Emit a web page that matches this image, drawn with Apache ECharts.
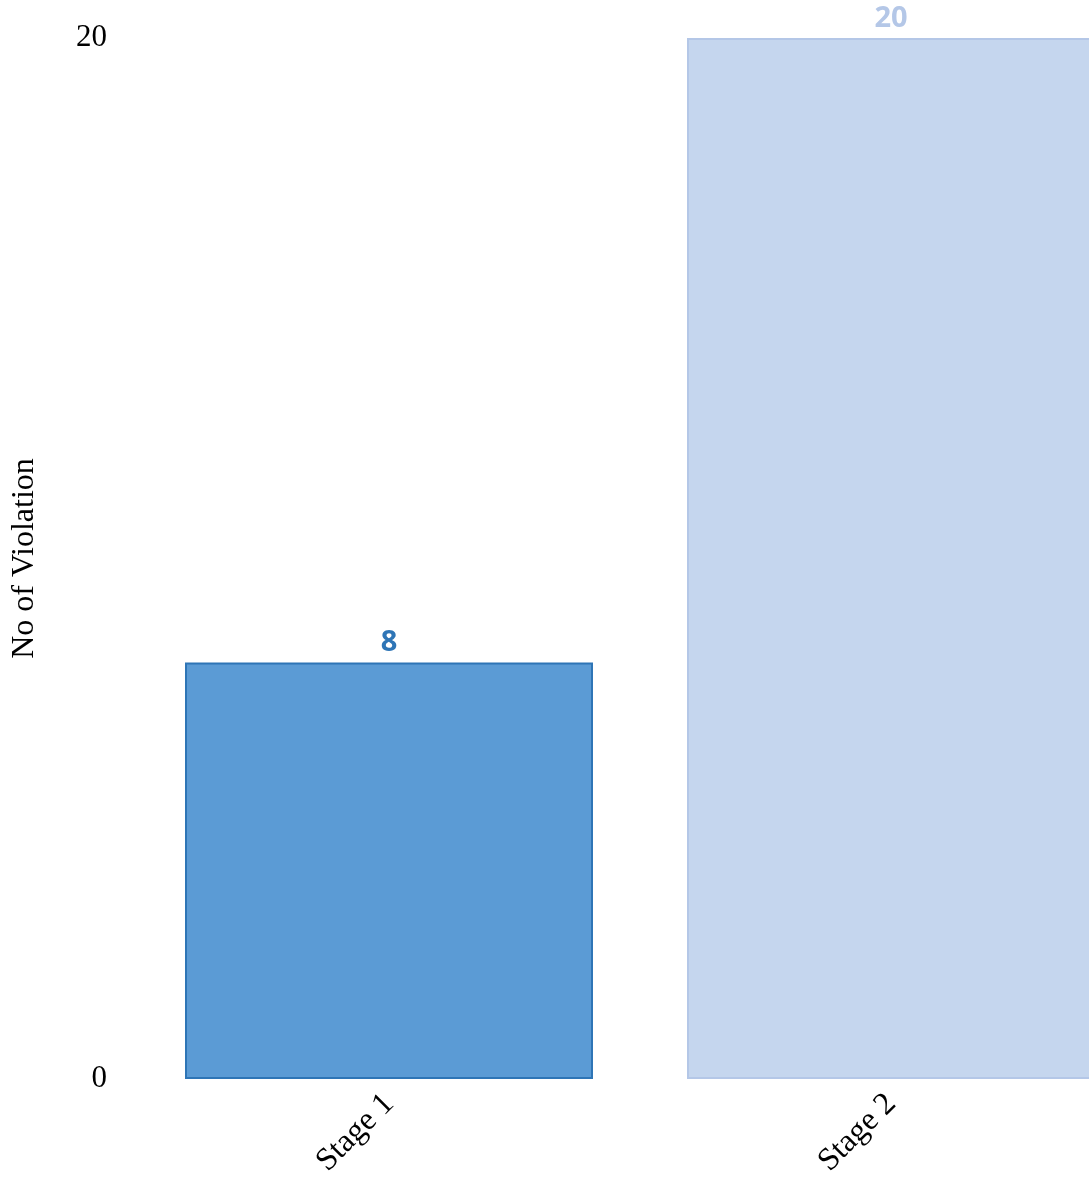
<!DOCTYPE html>
<html>
<head>
<meta charset="utf-8">
<style>
  html, body { margin: 0; padding: 0; background: #ffffff; }
  #chart { width: 1089px; height: 1177px; }
</style>
<script src="https://cdn.jsdelivr.net/npm/echarts@6/dist/echarts.min.js"></script>
</head>
<body>
<div id="chart"></div>
<script>
// Violations counted per stage
const stages = ['Stage 1', 'Stage 2'];
const violations = [8, 20];
const fillColors = ['#5b9bd5', '#c5d6ee'];
const edgeColors = ['#2e75b6', '#b4c7e7'];
const labelColors = ['#2e75b6', '#b4c7e7'];

const chart = echarts.init(document.getElementById('chart'), null, { renderer: 'canvas' });

const serif = '"Liberation Serif", "DejaVu Serif", serif';

chart.setOption({
  animation: false,
  backgroundColor: '#ffffff',
  // plot area runs past the right edge of the canvas, so the second bar is cut off
  grid: {
    left: 138, width: 1004, top: 38, height: 1041,
    containLabel: false,
    outerBoundsMode: 'none'
  },
  xAxis: {
    type: 'category',
    data: stages,
    axisLine: { show: false },
    axisTick: { show: false },
    axisLabel: {
      rotate: 45,
      margin: 20,
      fontFamily: serif,
      fontSize: 32,
      color: '#000000'
    }
  },
  yAxis: {
    type: 'value',
    min: 0,
    max: 20,
    interval: 20,
    name: 'No of Violation',
    nameLocation: 'middle',
    nameGap: 97,
    nameTextStyle: { fontFamily: serif, fontSize: 32, color: '#000000' },
    axisLine: { show: false },
    axisTick: { show: false },
    splitLine: { show: false },
    axisLabel: {
      margin: 31,
      fontFamily: serif,
      fontSize: 31,
      color: '#000000'
    }
  },
  series: [{
    type: 'bar',
    barWidth: 408,
    data: violations.map((v, i) => ({
      value: v,
      itemStyle: { color: fillColors[i], borderColor: edgeColors[i], borderWidth: 2 },
      label: { color: labelColors[i] }
    })),
    label: {
      show: true,
      position: 'top',
      distance: 5,
      fontFamily: '"Open Sans", "Liberation Sans", sans-serif',
      fontWeight: 'bold',
      fontSize: 29
    }
  }]
});
</script>
</body>
</html>
